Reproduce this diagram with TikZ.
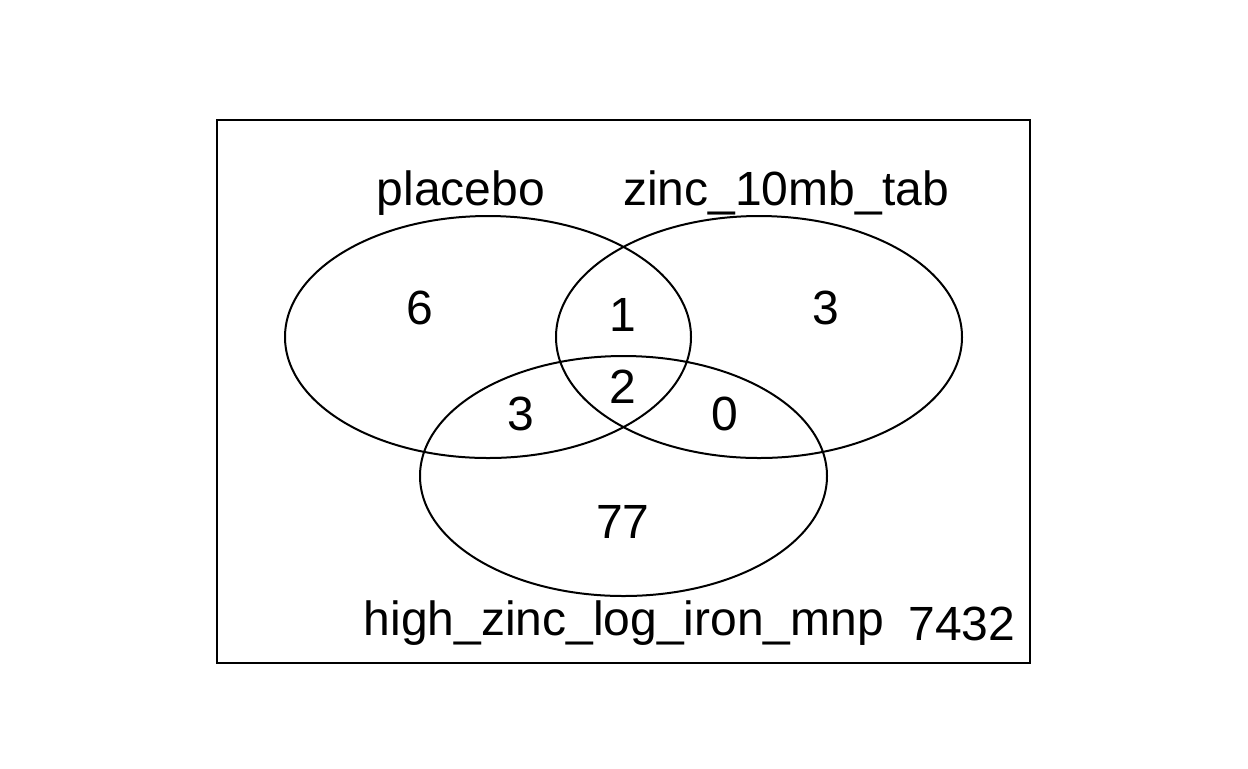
\documentclass[tikz,border=0pt]{standalone}
\usepackage{fontspec}
\setmainfont{Liberation Sans}
\begin{document}
\begin{tikzpicture}[x=0.5pt,y=-0.5pt]
  \tikzset{
    setline/.style={draw,line width=1pt},
    lbl/.style={anchor=base,inner sep=0pt,font=\fontsize{24}{28}\selectfont}
  }
  \useasboundingbox (0,0) rectangle (1248,768);
  \draw[line width=1pt] (217,120) rectangle (1030,663);
  \draw[setline] (488,337) ellipse [x radius=203, y radius=121];
  \draw[setline] (759,337) ellipse [x radius=203, y radius=121];
  \draw[setline] (623.5,476) ellipse [x radius=203.5, y radius=120];
  \draw
    (461,205) node[lbl] (placebo){placebo}
    (786,205) node[lbl] (zinc){zinc\_10mb\_tab}
    (624,635) node[lbl] (high){high\_zinc\_log\_iron\_mnp}
    (962,640) node[lbl] (rest){7432}
    (420,324) node[lbl] (a){6}
    (826,324) node[lbl] (b){3}
    (623,331) node[lbl] (ab){1}
    (623,403) node[lbl] (abc){2}
    (521,430) node[lbl] (ac){3}
    (725,430) node[lbl] (bc){0}
    (623,538) node[lbl] (c){77};
\end{tikzpicture}
\end{document}
